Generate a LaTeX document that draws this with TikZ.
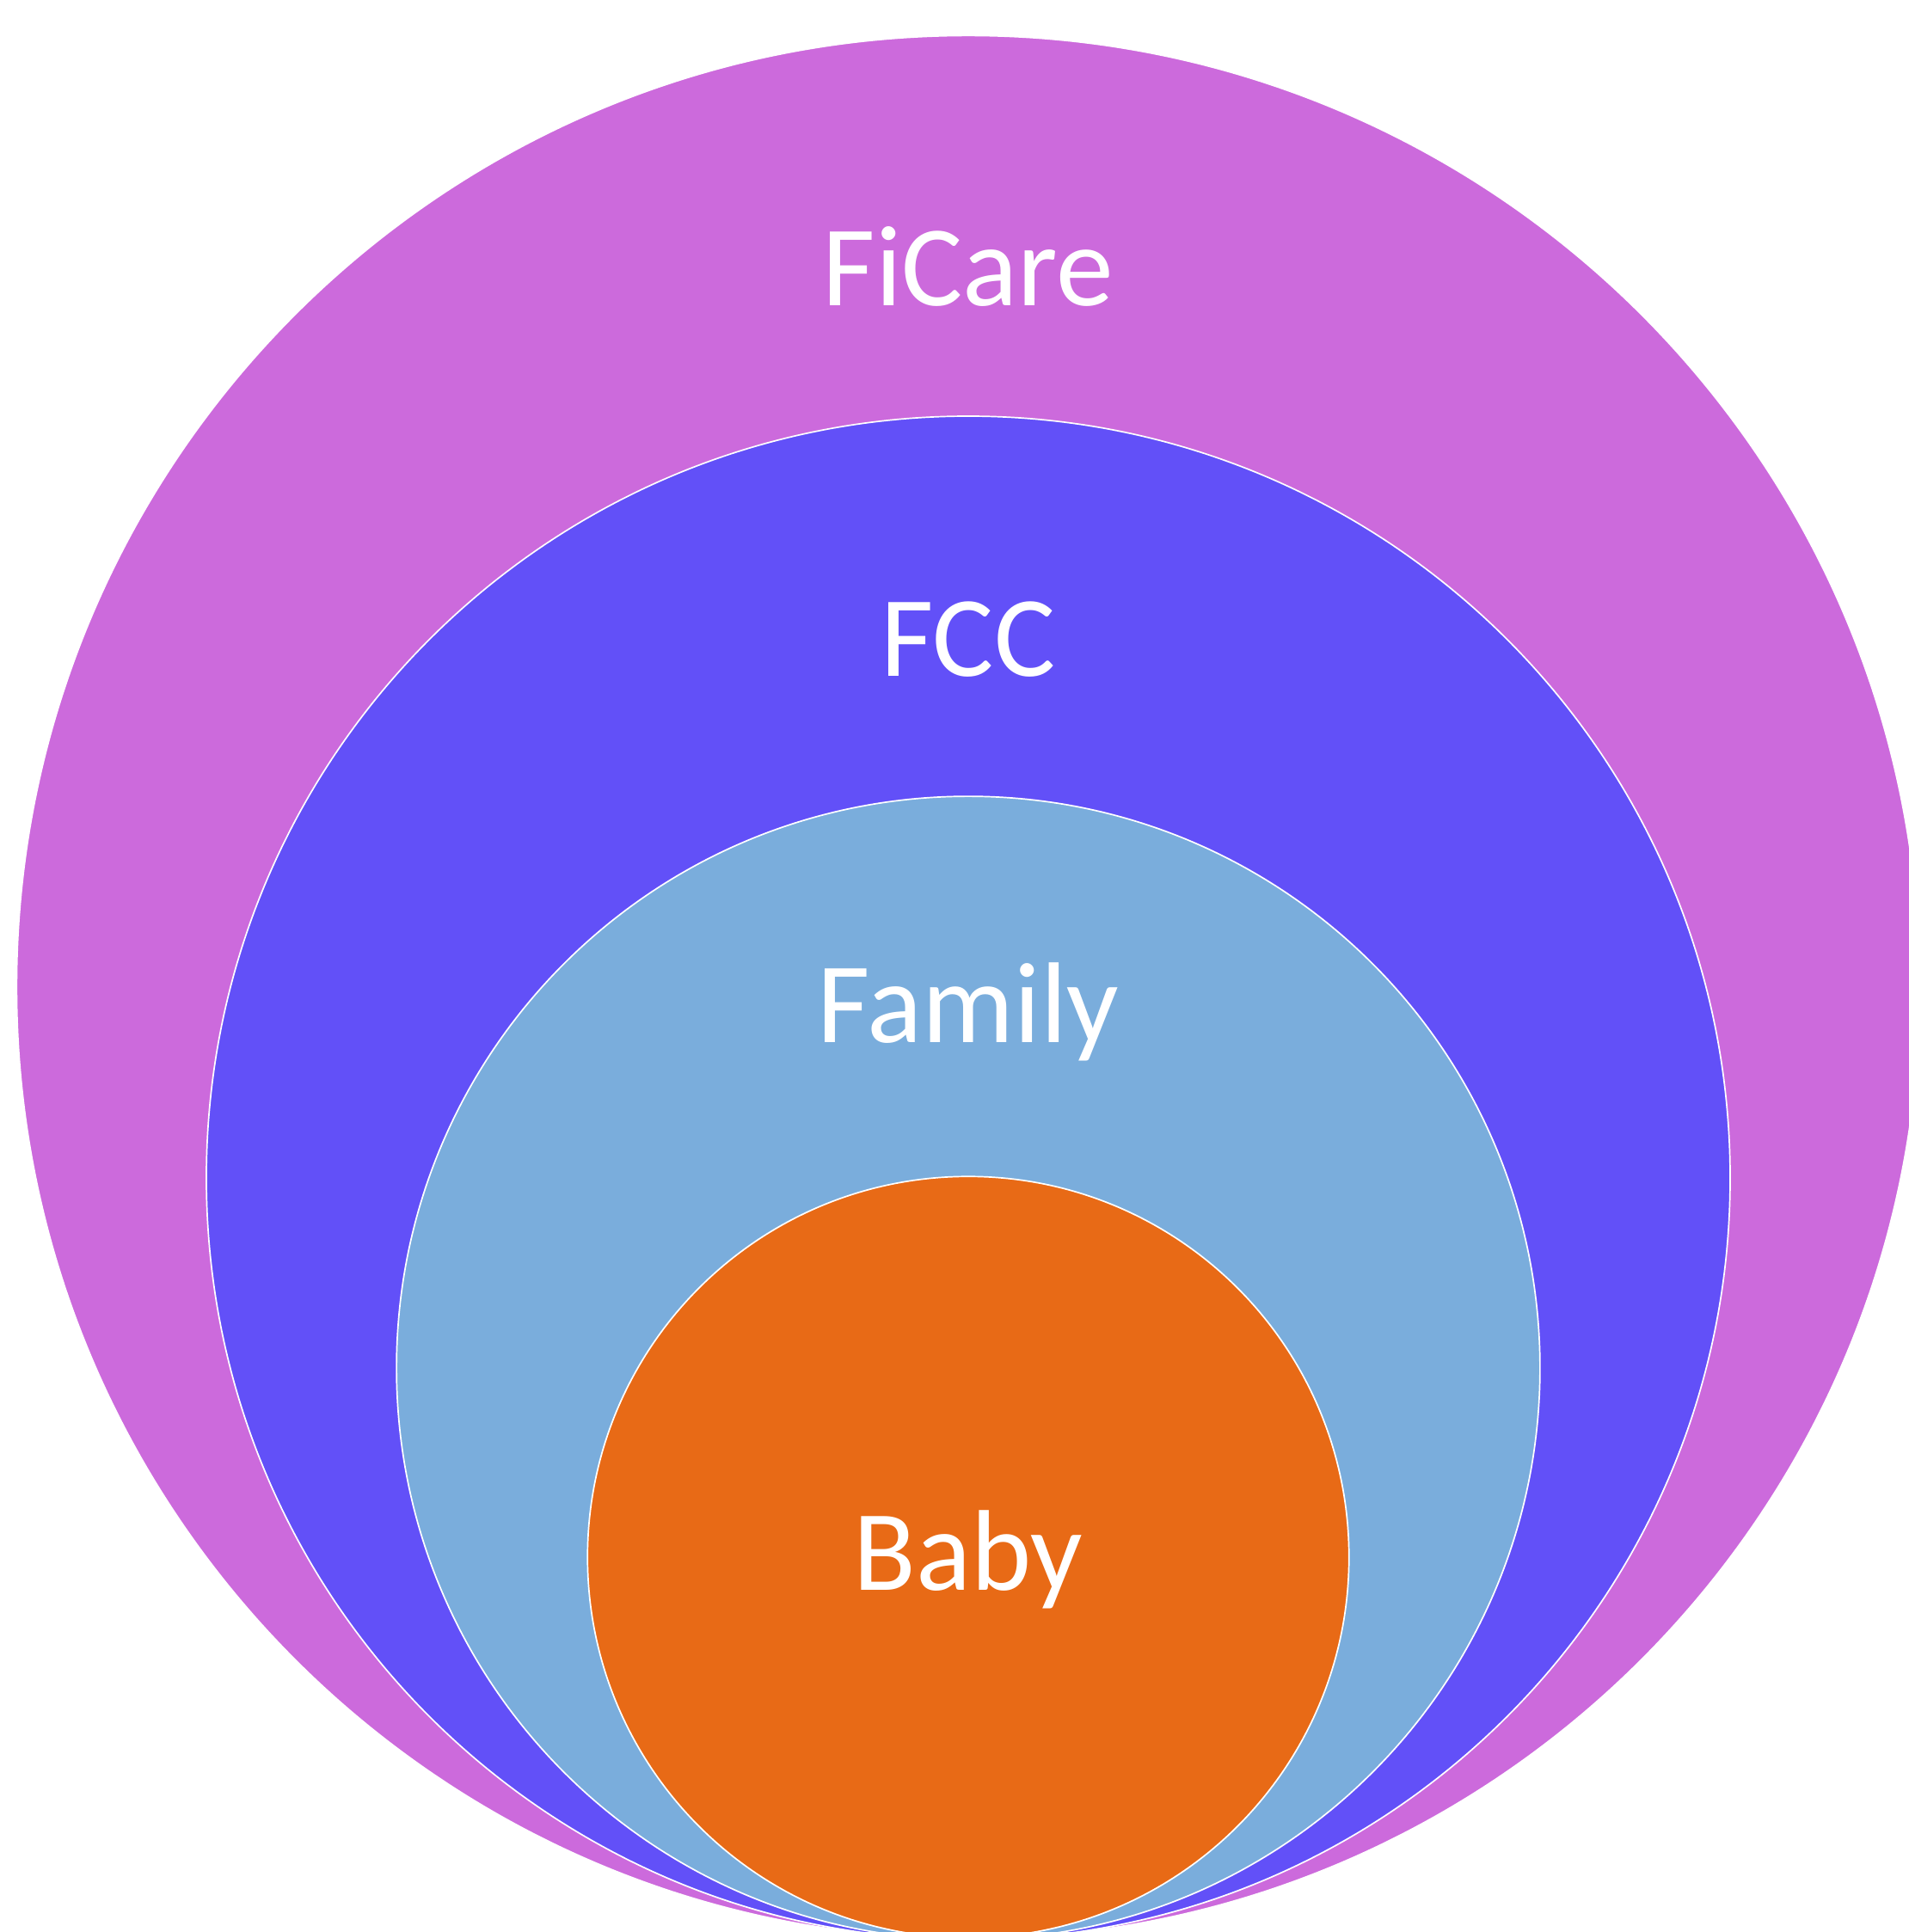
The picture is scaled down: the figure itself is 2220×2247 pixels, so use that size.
\documentclass[tikz,border=0pt]{standalone}
\usepackage{fontspec}
\setmainfont{Carlito}
\definecolor{ficarecol}{RGB}{204,106,220}
\definecolor{fcccol}{RGB}{98,80,248}
\definecolor{familycol}{RGB}{122,173,220}
\definecolor{babycol}{RGB}{232,106,22}
\begin{document}
\begin{tikzpicture}[x=0.01cm,y=-0.01cm,
  ring/.style={circle,draw=white,line width=0.017cm,inner sep=0pt},
  ring label/.style={text=white,anchor=base,inner sep=0pt,
  font=\fontsize{38}{40}\selectfont}]

  \useasboundingbox (0,0) rectangle (2220,2247);
  \clip (0,0) rectangle (2220,2247);

  % rings, outside in, all touching at the bottom
  \node[ring,fill=ficarecol,minimum size=22.12cm] (ficare) at (1126,1148) {};
  \node[ring,fill=fcccol,minimum size=17.71cm] (fcc) at (1126,1370) {};
  \node[ring,fill=familycol,minimum size=13.29cm] (family) at (1126,1591) {};
  \node[ring,fill=babycol,minimum size=8.85cm] (baby) at (1126,1811) {};

  \node[ring label] (ficaretext) at (1126,355) {FiCare};
  \node[ring label] (fcctext) at (1126,786) {FCC};
  \node[ring label] (familytext) at (1126,1212) {Family};
  \node[ring label] (babytext) at (1126,1849) {Baby};
\end{tikzpicture}
\end{document}
